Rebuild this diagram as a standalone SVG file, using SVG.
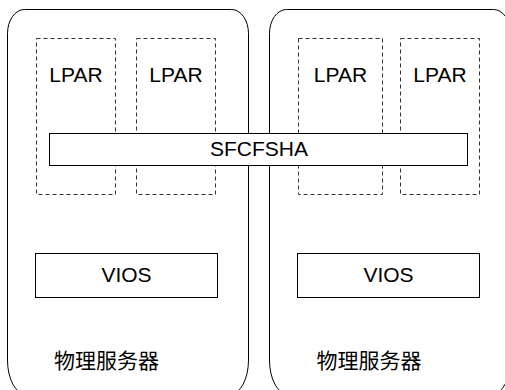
<svg xmlns="http://www.w3.org/2000/svg" width="505" height="390" viewBox="0 0 505 390">
<style>
.server{fill:#fff;stroke:#000;stroke-width:1}
.lpar{fill:none;stroke:#333;stroke-width:1;stroke-dasharray:4 3}
.box{fill:#fff;stroke:#000;stroke-width:1}
.t{font-family:"Liberation Sans",Arial,sans-serif;font-size:21px;fill:#000;text-anchor:middle}
.cn{font-family:"Liberation Sans","Noto Sans CJK SC",sans-serif;font-size:21px;fill:#000}
</style>
<rect width="505" height="390" fill="#fff"/>
<g id="server1">
<path class="server" d="M7.5,33.5 A17,24 0 0 1 24.5,9.5 L231.5,9.5 A17,24 0 0 1 248.5,33.5 L248.5,360 A18,34 0 0 1 230.5,394 L25.5,394 A18,34 0 0 1 7.5,360 Z"/>
<text class="cn" x="54" y="368">物理服务器</text>
</g>
<g id="server2">
<path class="server" d="M269.5,33.5 A17,24 0 0 1 286.5,9.5 L493.5,9.5 A17,24 0 0 1 510.5,33.5 L510.5,360 A18,34 0 0 1 492.5,394 L287.5,394 A18,34 0 0 1 269.5,360 Z"/>
<text class="cn" x="316.5" y="368">物理服务器</text>
</g>
<g id="lpar1"><rect class="lpar" x="36.5" y="38.5" width="79" height="156"/><text class="t" x="76" y="82">LPAR</text></g>
<g id="lpar2"><rect class="lpar" x="136.5" y="38.5" width="79" height="156"/><text class="t" x="176" y="82">LPAR</text></g>
<g id="lpar3"><rect class="lpar" x="298.5" y="38.5" width="84" height="156"/><text class="t" x="340.5" y="82">LPAR</text></g>
<g id="lpar4"><rect class="lpar" x="400.5" y="38.5" width="79" height="156"/><text class="t" x="440" y="82">LPAR</text></g>
<g id="sfcfsha"><rect class="box" x="49.5" y="133.5" width="418" height="32"/><text class="t" x="259" y="156">SFCFSHA</text></g>
<g id="vios1"><rect class="box" x="35.5" y="253.5" width="182" height="44"/><text class="t" x="126.5" y="282">VIOS</text></g>
<g id="vios2"><rect class="box" x="297.5" y="253.5" width="182" height="44"/><text class="t" x="388.5" y="282">VIOS</text></g>
<g id="connectors"></g>
</svg>
